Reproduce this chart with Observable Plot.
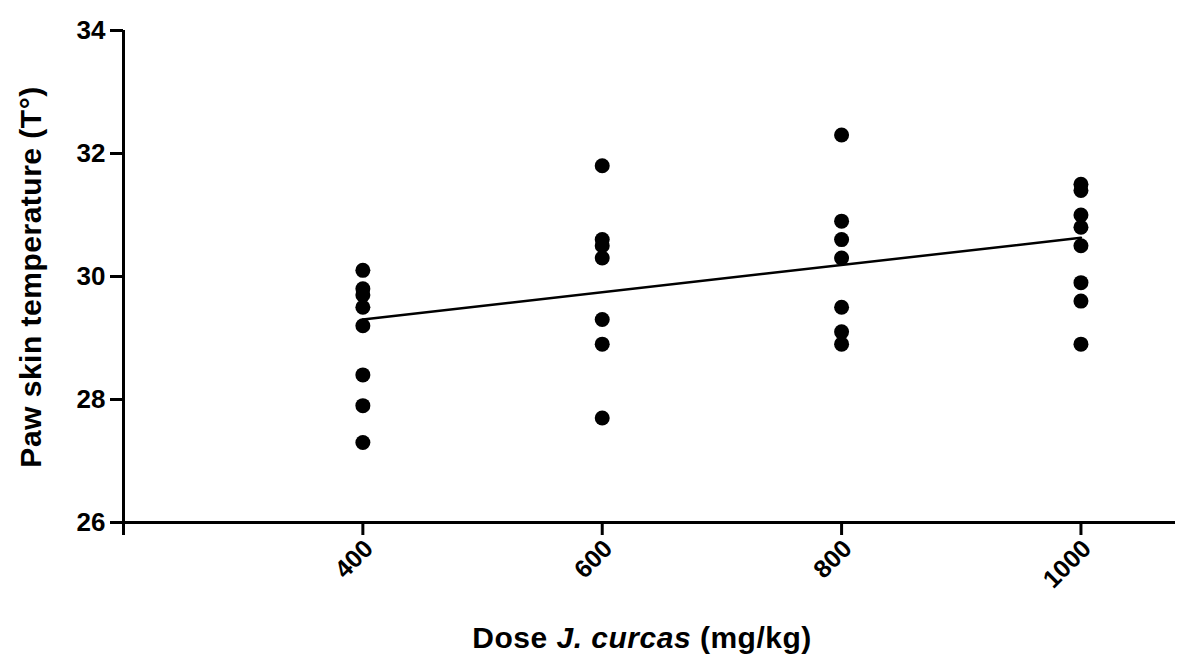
<!DOCTYPE html>
<html>
<head>
<meta charset="utf-8">
<script src="https://cdn.jsdelivr.net/npm/d3@7"></script>
<script src="https://cdn.jsdelivr.net/npm/@observablehq/plot@0.6"></script>
<style>
  html, body { margin: 0; padding: 0; background: #fff; }
</style>
</head>
<body>
<div id="chart"></div>
<script>
// Data
const doses = [400, 600, 800, 1000];
const temps400 = [30.1, 29.8, 29.7, 29.5, 29.2, 28.4, 27.9, 27.3];
const temps600 = [31.8, 30.6, 30.5, 30.3, 29.3, 28.9, 27.7];
const temps800 = [32.3, 30.9, 30.6, 30.3, 29.5, 29.1, 28.9];
const temps1000 = [31.5, 31.4, 31.0, 30.8, 30.5, 29.9, 29.6, 28.9];
const fitDose = [400, 1000];
const fitTemp = [29.3, 30.63];
const xTicks = [200, 400, 600, 800, 1000];
const xLabelTicks = [400, 600, 800, 1000];
const yTicks = [26, 28, 30, 32, 34];

const groups = [temps400, temps600, temps800, temps1000];
const points = doses.flatMap((d, i) => groups[i].map(t => ({dose: d, temp: t})));
const fit = fitDose.map((d, i) => ({dose: d, temp: fitTemp[i]}));

const font = "'Liberation Sans', Arial, Helvetica, sans-serif";

const plot = Plot.plot({
  width: 1187,
  height: 661,
  marginLeft: 123,
  marginRight: 12,
  marginTop: 30,
  marginBottom: 139,
  style: {fontFamily: font, color: "black", background: "white", overflow: "visible"},
  x: {domain: [200, 1079]},
  y: {domain: [26, 34]},
  marks: [
    Plot.axisY({
      ticks: yTicks, tickSize: 13, tickPadding: 5, strokeWidth: 3,
      fontSize: 26, fontWeight: "bold", label: null
    }),
    // x tick marks
    Plot.axisX({
      ticks: xTicks, tickSize: 13, strokeWidth: 3,
      tickFormat: () => "", label: null
    }),
    // x tick labels, rotated
    Plot.axisX({
      ticks: xLabelTicks, tickSize: 0, tickPadding: 22, dx: 6, tickRotate: -45,
      tickFormat: d => String(d),
      fontSize: 25, fontWeight: "bold", label: null
    }),
    Plot.ruleX([200], {y1: 26, y2: 34, strokeWidth: 3}),
    Plot.ruleY([26], {x1: 200, x2: 1079, strokeWidth: 3}),
    Plot.line(fit, {x: "dose", y: "temp", stroke: "black", strokeWidth: 2.5}),
    Plot.dot(points, {x: "dose", y: "temp", r: 7.5, fill: "black", stroke: "none"})
  ]
});

const svg = d3.select(plot);
// Y axis label
svg.append("text")
  .attr("transform", "translate(30,277) rotate(-90)")
  .attr("text-anchor", "middle")
  .attr("dy", "0.35em")
  .attr("font-family", font)
  .attr("font-size", 30)
  .attr("font-weight", "bold")
  .attr("letter-spacing", 0.5)
  .attr("fill", "black")
  .text("Paw skin temperature (T°)");

// X axis label with italic species name
const xl = svg.append("text")
  .attr("x", 642)
  .attr("y", 648)
  .attr("text-anchor", "middle")
  .attr("font-family", font)
  .attr("font-size", 30)
  .attr("font-weight", "bold")
  .attr("letter-spacing", 0.5)
  .attr("fill", "black")
  .style("white-space", "pre");
xl.append("tspan").text("Dose ");
xl.append("tspan").attr("font-style", "italic").text("J. curcas");
xl.append("tspan").text(" (mg/kg)");

document.getElementById("chart").appendChild(plot);
</script>
</body>
</html>
